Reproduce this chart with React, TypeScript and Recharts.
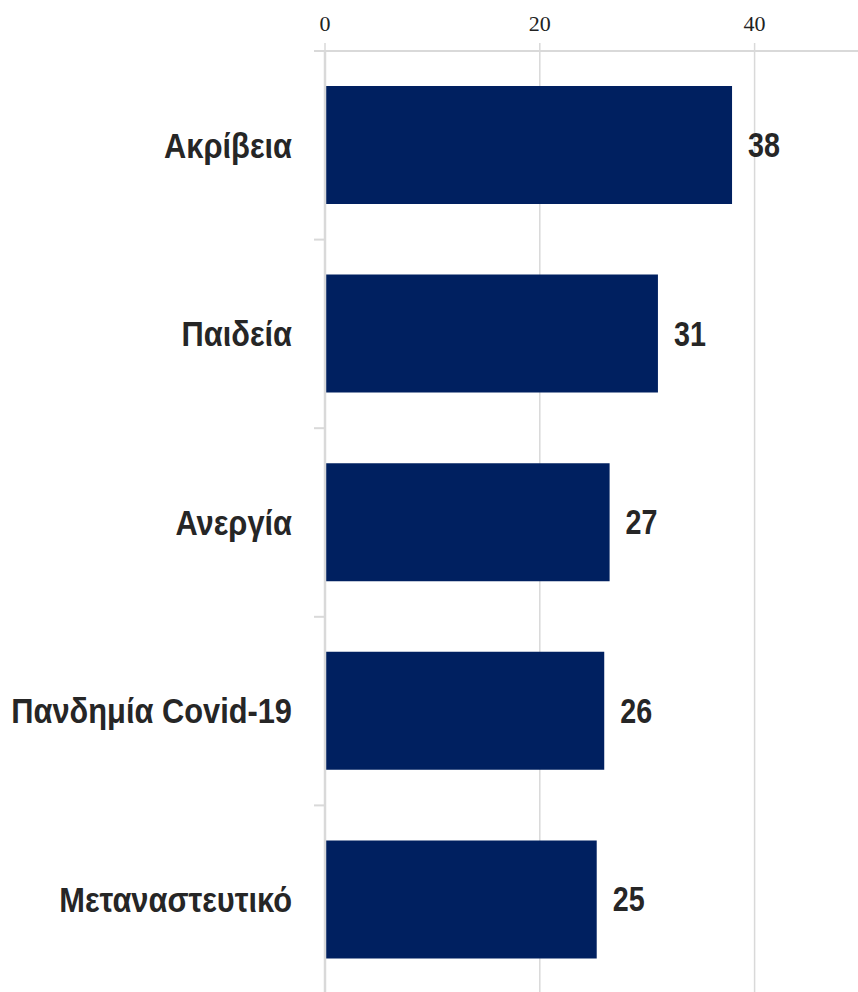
import React from "react";
import { BarChart, Bar, XAxis, YAxis, CartesianGrid, LabelList } from "recharts";

const categories = ["Ακρίβεια", "Παιδεία", "Ανεργία", "Πανδημία Covid-19", "Μεταναστευτικό"];
const values = [37.9, 31.0, 26.5, 26.0, 25.3];
const xTicks = [0, 20, 40];

const data = categories.map((name, i) => ({ name, value: values[i] }));

const CHART_W = 862;
const CHART_H = 994;
const TOP = 51;
const BAND = (CHART_H - TOP) / categories.length;

const YTick = (props: any) => {
  const { x, y, payload, index } = props;
  return (
    <g>
      <text
        transform={`translate(${x - 33},${y}) scale(0.88,1)`}
        x={0}
        y={0}
        textAnchor="end"
        dominantBaseline="central"
        fontFamily="'Liberation Sans', Arial, sans-serif"
        fontWeight="bold"
        fontSize={35}
        fill="#262626"
      >
        {payload.value}
      </text>
      {index === 0 && (
        <line x1={x - 11} x2={x} y1={y - BAND / 2} y2={y - BAND / 2} stroke="#d9d9d9" strokeWidth={2} />
      )}
      <line x1={x - 11} x2={x} y1={y + BAND / 2} y2={y + BAND / 2} stroke="#d9d9d9" strokeWidth={2} />
    </g>
  );
};

const ValueLabel = (props: any) => {
  const { x, y, width, height, value } = props;
  const lx = Number(x) + Number(width) + 16;
  const ly = Number(y) + Number(height) / 2;
  return (
    <text
      transform={`translate(${lx},${ly}) scale(0.82,1)`}
      x={0}
      y={0}
      textAnchor="start"
      dominantBaseline="central"
      fontFamily="'Liberation Sans', Arial, sans-serif"
      fontWeight="bold"
      fontSize={35}
      fill="#262626"
    >
      {Math.round(Number(value))}
    </text>
  );
};

export default function App() {
  return (
    <div style={{ position: "absolute", left: 0, top: 0, width: 858, height: 992, overflow: "hidden", background: "#fff" }}>
      <BarChart
        width={CHART_W}
        height={CHART_H}
        data={data}
        layout="vertical"
        margin={{ top: 10, right: 0, bottom: 0, left: 0 }}
      >
        <CartesianGrid horizontal={false} vertical={true} stroke="#d9d9d9" strokeWidth={1.5} />
        <XAxis
          type="number"
          orientation="top"
          domain={[0, 50]}
          ticks={xTicks}
          height={41}
          tickSize={8}
          tickMargin={12}
          axisLine={{ stroke: "#d9d9d9", strokeWidth: 2 }}
          tickLine={{ stroke: "#d9d9d9", strokeWidth: 1.5 }}
          tick={{ fontFamily: "'Liberation Serif', 'Times New Roman', serif", fontSize: 22, fill: "#222" }}
        />
        <YAxis
          type="category"
          dataKey="name"
          width={325}
          tickSize={0}
          tickMargin={0}
          axisLine={{ stroke: "#d9d9d9", strokeWidth: 2.5 }}
          tickLine={false}
          tick={<YTick />}
          interval={0}
        />
        <Bar dataKey="value" fill="#002060" barSize={118} isAnimationActive={false}>
          <LabelList dataKey="value" content={<ValueLabel />} />
        </Bar>
      </BarChart>
    </div>
  );
}
